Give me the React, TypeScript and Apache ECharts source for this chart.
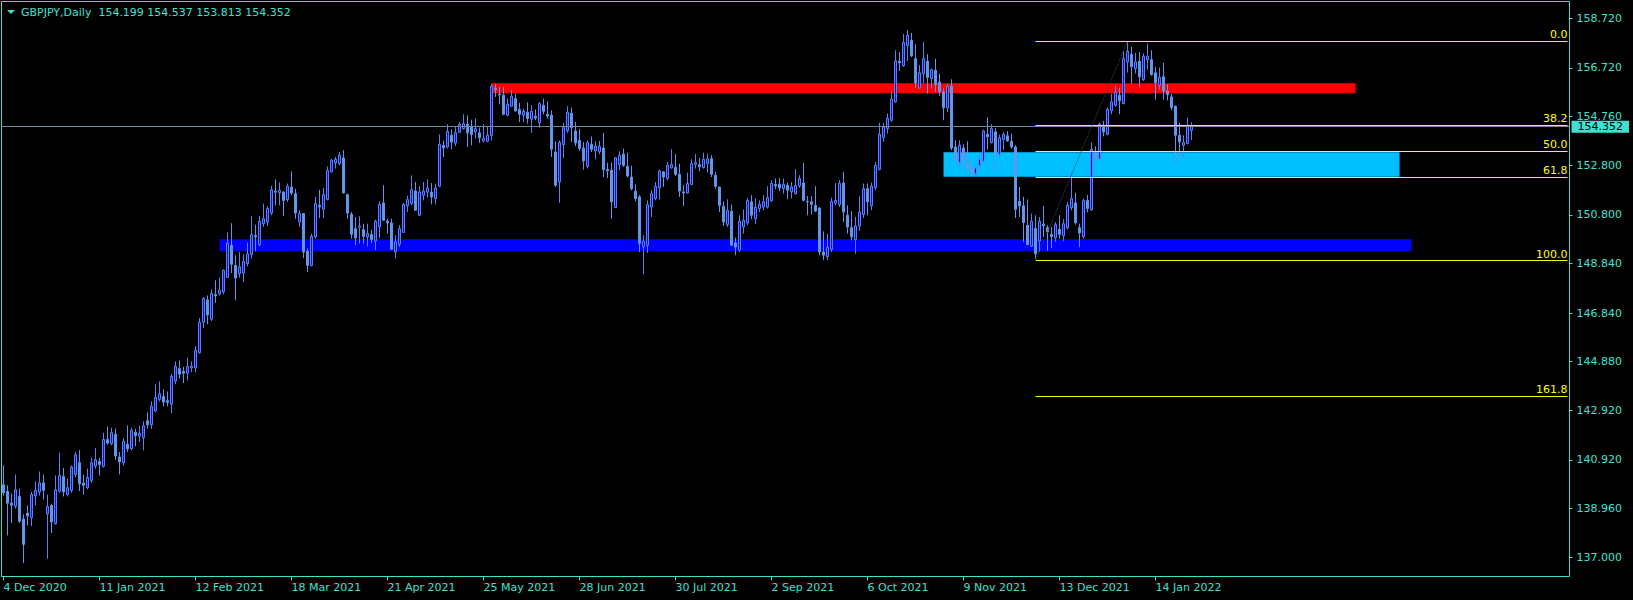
import React, { useEffect, useRef } from 'react';
import * as echarts from 'echarts';

// ---------- DATA ----------
const SYMBOL_HEADER = 'GBPJPY,Daily  154.199 154.537 153.813 154.352';
const FIRST_DAY = '2020-12-04';
const HOLIDAYS = ['2020-12-25', '2021-01-01'];
const TOTAL_SLOTS = 392; // bars + empty space on the right
const LABEL_EVERY = 24;

// [open, close, low, high]
const candles: number[][] = [
  [139.92,139.60,139.49,140.70],[139.65,139.18,137.88,139.90],[139.18,139.10,138.38,139.56],[139.06,139.72,138.96,140.34],
  [139.45,138.45,138.38,139.76],[138.53,137.52,136.77,138.73],[138.78,138.66,138.28,139.09],[138.59,139.53,138.26,139.63],
  [139.47,139.70,139.09,140.06],[139.63,140.00,139.49,140.46],[140.00,139.70,139.32,140.33],[138.75,139.05,136.94,139.53],
  [139.09,138.42,137.98,139.16],[138.35,139.72,138.32,140.30],[139.66,140.30,139.60,141.21],[140.26,139.63,139.45,140.60],
  [139.53,139.80,139.45,140.17],[139.70,140.64,139.60,140.70],[140.34,141.13,140.23,141.24],[140.81,139.96,139.67,141.31],
  [139.99,139.90,139.52,140.33],[139.80,140.22,139.74,140.57],[140.10,140.81,140.00,141.00],[140.68,140.93,140.57,141.40],
  [140.86,140.74,140.30,141.00],[140.66,141.75,140.61,142.02],[141.75,141.60,141.54,142.27],[141.58,142.02,141.51,142.22],
  [141.95,141.08,140.93,142.18],[141.04,140.84,140.34,141.24],[140.80,141.67,140.70,141.80],[141.55,141.37,141.25,142.31],
  [141.37,142.11,141.31,142.22],[142.03,141.91,141.47,142.18],[141.88,141.99,141.64,142.30],[141.82,142.30,141.31,142.48],
  [142.50,142.34,142.18,142.84],[142.34,143.08,142.17,143.28],[142.89,143.44,142.85,143.97],[143.36,143.59,143.28,144.09],
  [143.48,143.25,143.09,143.77],[143.31,143.24,143.08,143.68],[143.17,144.29,142.81,144.40],[144.10,144.69,143.97,144.89],
  [144.60,144.38,144.20,144.93],[144.49,144.42,144.02,144.67],[144.42,144.69,144.13,145.05],[144.63,144.70,144.46,144.89],
  [144.63,145.34,144.45,145.51],[145.24,146.47,145.20,146.64],[146.47,147.43,146.24,147.49],[147.37,146.76,146.39,147.55],
  [146.59,147.63,146.52,147.80],[147.59,147.53,147.25,148.16],[147.61,147.76,147.55,148.28],[147.69,148.56,147.59,148.60],
  [148.28,149.65,148.25,150.09],[149.57,148.80,148.45,150.46],[148.76,148.25,147.35,149.17],[148.43,148.70,148.27,149.30],
  [148.45,148.92,148.09,149.21],[148.83,149.23,148.72,149.68],[149.19,150.00,149.03,150.74],[149.97,149.91,149.33,150.40],
  [149.60,150.54,149.53,150.75],[150.44,150.64,150.31,151.25],[150.51,151.05,150.35,151.14],[150.87,151.81,150.78,151.96],
  [151.75,151.71,151.18,152.23],[151.68,151.79,151.18,152.10],[151.72,151.38,150.75,151.75],[151.41,151.95,151.32,152.06],
  [151.92,151.68,151.61,152.55],[151.65,150.87,150.64,151.85],[150.51,150.85,150.31,150.98],[150.85,149.30,149.06,150.87],
  [149.33,148.76,148.49,149.44],[148.76,149.93,148.72,150.04],[149.91,151.25,149.84,151.52],[151.18,151.11,150.67,151.81],
  [151.02,151.61,150.67,151.88],[151.42,152.59,151.38,152.75],[152.53,153.00,152.50,153.06],[152.89,153.04,152.66,153.13],
  [152.86,153.20,152.79,153.33],[153.09,151.68,151.65,153.40],[151.61,150.87,150.64,151.65],[150.82,150.01,149.84,150.91],
  [150.24,149.87,149.57,150.71],[150.30,150.34,149.64,150.74],[150.20,149.93,149.64,150.44],[149.91,150.04,149.53,150.44],
  [150.01,149.80,149.66,150.20],[149.74,150.54,149.37,150.60],[150.31,151.22,149.87,151.34],[151.28,150.58,150.55,151.99],
  [150.54,150.47,150.04,150.64],[150.47,149.41,149.37,150.64],[149.30,149.70,149.03,149.97],[149.61,150.24,149.50,150.38],
  [150.09,151.22,150.07,151.28],[151.16,151.41,150.91,151.57],[151.25,151.81,151.18,152.39],[151.76,150.98,150.96,152.12],
  [150.78,151.72,150.76,151.95],[151.58,151.75,151.38,152.12],[151.71,151.88,151.49,152.22],[151.71,151.52,151.22,152.08],
  [151.45,151.88,151.22,152.06],[151.95,153.64,151.92,154.04],[153.59,153.49,153.13,153.78],[153.53,154.16,153.47,154.45],
  [154.00,153.73,153.44,154.23],[153.69,154.11,153.57,154.34],[154.12,154.45,154.10,154.54],[154.27,154.47,154.23,154.85],
  [154.45,154.10,153.53,154.81],[154.37,154.03,153.60,154.63],[154.14,154.27,153.87,154.68],[154.10,153.90,153.69,154.31],
  [153.78,153.88,153.73,154.45],[153.76,154.00,153.72,154.34],[153.99,155.98,153.80,156.06],[155.90,155.83,155.55,156.06],
  [155.66,155.63,155.25,155.95],[155.62,154.85,154.81,155.95],[154.81,155.25,154.77,155.48],[155.17,155.58,155.15,155.82],
  [155.48,154.98,154.97,155.68],[155.04,154.85,154.54,155.31],[154.81,154.97,154.54,155.08],[154.93,154.68,154.47,155.33],
  [154.65,154.97,154.10,155.21],[154.77,154.70,154.61,155.04],[154.50,155.28,154.30,155.33],[155.21,154.97,154.84,155.48],
  [154.85,154.78,154.68,155.37],[154.81,153.44,153.13,155.01],[153.33,151.99,151.92,153.76],[152.12,153.71,151.28,153.80],
  [153.63,154.31,153.09,154.50],[154.18,154.93,154.10,155.17],[154.89,154.31,153.73,155.12],[154.18,153.69,153.56,154.54],
  [153.80,153.47,153.37,154.25],[153.49,152.97,152.62,153.73],[152.75,153.71,152.66,153.80],[153.64,153.44,153.33,153.96],
  [153.37,153.57,153.04,153.76],[153.33,153.56,153.24,153.78],[153.49,152.62,152.32,154.10],[152.63,152.57,152.28,152.90],
  [152.60,151.32,150.64,152.90],[151.09,153.10,151.07,153.13],[152.82,153.20,152.59,153.36],[153.24,152.79,152.73,153.47],
  [152.75,152.36,152.30,153.30],[152.32,151.85,151.79,152.77],[151.75,151.45,151.34,152.02],[151.52,149.64,149.30,151.59],
  [149.50,149.73,148.40,149.97],[149.57,151.21,149.26,151.38],[151.11,151.65,150.71,151.79],[151.45,151.95,151.38,152.12],
  [151.89,152.57,151.41,152.62],[152.53,152.32,151.92,152.55],[152.26,152.79,152.19,152.93],[152.69,152.82,152.66,153.44],
  [152.71,152.43,152.36,153.24],[152.43,151.76,151.52,152.86],[151.72,151.68,151.16,151.99],[151.68,152.06,151.65,152.50],
  [152.02,152.86,151.99,153.04],[152.83,152.90,152.66,153.24],[152.82,152.73,152.55,153.09],[152.70,153.04,152.66,153.30],
  [152.86,153.06,152.50,153.26],[153.06,152.43,152.32,153.20],[152.39,151.95,151.85,152.53],[151.92,151.18,150.91,151.92],
  [151.14,150.51,150.35,151.34],[150.40,150.98,150.31,151.42],[150.94,149.57,149.57,151.21],[149.66,149.50,149.17,149.88],
  [149.37,150.54,149.30,150.78],[150.31,150.58,150.04,151.01],[150.47,151.38,150.38,151.48],[151.32,150.78,150.62,151.59],
  [150.64,151.10,150.42,151.45],[151.05,151.22,150.91,151.38],[151.11,151.32,150.98,151.59],[151.11,151.49,151.05,151.95],
  [151.36,152.07,151.32,152.19],[152.02,151.96,151.83,152.26],[152.03,151.88,151.75,152.28],[151.85,152.03,151.65,152.26],
  [151.99,151.79,151.42,152.10],[151.72,151.92,151.45,152.12],[151.65,151.99,151.61,152.63],[151.96,152.26,151.89,152.39],
  [152.08,151.38,151.34,152.89],[151.34,151.32,150.78,151.56],[151.32,151.22,150.81,151.56],[151.18,150.95,150.91,151.95],
  [151.07,149.30,149.17,151.11],[149.30,149.17,148.97,150.13],[149.11,149.49,148.97,150.04],[149.41,151.34,149.30,151.49],
  [151.28,151.38,151.18,152.08],[151.21,152.07,151.11,152.20],[152.08,150.91,150.51,152.53],[150.78,150.31,150.04,151.18],
  [150.28,149.91,149.77,150.95],[149.80,150.35,149.23,150.71],[150.35,150.91,150.15,151.55],[150.81,151.85,150.67,152.06],
  [151.85,151.32,150.78,152.06],[151.16,151.95,150.98,152.10],[151.89,152.79,151.79,152.93],[152.63,154.04,152.59,154.51],
  [153.91,154.34,153.74,154.50],[154.27,154.68,154.07,154.88],[154.61,155.46,154.54,155.75],[155.35,157.00,155.31,157.43],
  [156.99,156.92,156.60,157.36],[156.80,157.74,156.76,158.08],[157.62,158.03,157.00,158.24],[157.83,157.20,157.16,158.13],
  [157.09,156.11,155.91,157.67],[155.91,156.52,155.89,156.83],[156.49,157.09,156.09,157.77],[156.99,156.33,155.68,157.27],
  [156.29,156.65,155.89,156.69],[156.62,156.05,155.75,157.09],[156.15,155.75,155.59,156.49],[155.75,155.11,154.61,155.89],
  [155.11,155.98,154.94,156.06],[155.98,153.49,153.40,156.26],[153.53,153.00,152.86,153.80],[152.90,153.60,152.70,153.80],
  [153.49,153.02,152.73,153.64],[152.90,152.66,152.59,153.76],[152.69,152.42,152.36,153.00],[152.46,152.69,152.36,152.79],
  [152.79,153.04,152.66,153.20],[152.96,154.18,152.90,154.23],[154.04,153.94,153.43,154.73],[153.71,154.27,153.67,154.45],
  [154.14,153.27,152.50,154.30],[153.22,153.90,153.20,154.03],[153.84,154.04,153.40,154.14],[153.98,153.78,153.74,154.17],
  [153.76,153.53,153.47,154.07],[153.53,151.02,150.67,153.60],[151.34,151.16,150.71,151.92],[151.16,150.48,149.70,151.52],
  [150.38,149.60,149.57,151.42],[149.53,150.54,149.50,150.85],[150.24,149.23,149.03,150.78],[149.74,150.54,149.30,150.71],
  [150.42,150.35,149.91,151.16],[150.28,150.11,149.34,150.38],[150.01,149.93,149.46,150.31],[149.87,150.40,149.70,150.51],
  [150.22,150.01,149.84,150.78],[149.95,150.44,149.74,150.62],[150.27,151.18,150.22,151.32],[151.08,151.45,150.98,152.55],
  [151.28,150.48,150.40,151.69],[150.28,150.07,149.50,150.44],[149.91,151.38,149.84,151.45],[151.38,151.05,150.90,151.60],
  [151.00,153.44,150.95,153.71],[153.29,153.06,152.95,153.56],[153.06,154.45,153.00,154.50],[154.34,154.14,153.96,154.58],
  [154.04,155.05,154.00,155.12],[154.99,155.35,154.85,155.68],[155.21,155.75,155.15,156.02],[155.62,155.39,154.85,155.93],
  [155.28,157.09,155.25,157.40],[156.96,157.39,156.53,157.79],[157.27,156.76,156.09,157.56],[156.69,156.96,156.49,157.32],
  [156.99,156.36,155.93,157.36],[156.25,157.19,156.19,157.30],[157.05,157.19,156.65,157.70],[157.05,156.45,156.40,157.43],
  [156.52,156.11,155.44,156.76],[156.02,156.33,155.84,156.73],[156.36,155.79,155.44,156.92],[155.79,155.64,155.41,156.05],
  [155.55,155.12,155.01,155.68],[155.17,154.00,152.89,155.21],[154.00,153.74,153.06,154.50],[153.60,153.71,153.10,154.00],
  [153.67,154.37,153.64,154.72],[154.199,154.352,153.813,154.537],
];

const Y_TICKS = [137.0, 138.96, 140.92, 142.92, 144.88, 146.84, 148.84, 150.8, 152.8, 154.76, 156.72, 158.72];
const Y_MIN = 136.226;
const Y_MAX = 159.393;
const BID = 154.352;

// Fibonacci retracement anchors (bar index, price)
const FIB_LOW_BAR = 258;
const FIB_HIGH_BAR = 281;
const FIB_LOW = 148.957;
const FIB_HIGH = 157.792;
const FIB_LEVELS = [0, 38.2, 50, 61.8, 100, 161.8];
const FIB_LABELS = ['0.0', '38.2', '50.0', '61.8', '100.0', '161.8'];

// rectangles: [fromBar, toBar, topPrice, bottomPrice]
const RED_ZONE = [122, 338, 156.099, 155.696];
const BLUE_ZONE = [54, 352, 149.812, 149.328];
const CYAN_ZONE = [235, 349, 153.318, 152.331];

// ---------- helpers ----------
const MONTHS = ['Jan', 'Feb', 'Mar', 'Apr', 'May', 'Jun', 'Jul', 'Aug', 'Sep', 'Oct', 'Nov', 'Dec'];
function tradingDays(start: string, count: number, holidays: string[]): string[] {
  const out: string[] = [];
  const d = new Date(start + 'T00:00:00Z');
  while (out.length < count) {
    const iso = d.toISOString().slice(0, 10);
    const wd = d.getUTCDay();
    if (wd !== 0 && wd !== 6 && !holidays.includes(iso)) {
      out.push(`${d.getUTCDate()} ${MONTHS[d.getUTCMonth()]} ${d.getUTCFullYear()}`);
    }
    d.setUTCDate(d.getUTCDate() + 1);
  }
  return out;
}

const categories = tradingDays(FIRST_DAY, TOTAL_SLOTS, HOLIDAYS);
const N_BARS = candles.length;

const TEAL = '#40E0D0';
const FONT = 'DejaVu Sans';
const BULL_FILL = '#1010E0';
const BULL_EDGE = '#5A82F0';
const BEAR = '#6495ED';

function zone(z: number[], color: string) {
  return [
    { coord: [z[0], z[2]], itemStyle: { color, opacity: 1, borderWidth: 0 } },
    { coord: [z[1], z[3]] },
  ];
}

export default function App() {
  const ref = useRef<HTMLDivElement>(null);
  useEffect(() => {
    const chart = echarts.init(ref.current!, null, { renderer: 'svg', width: 1633, height: 600 });
    const showLabel = (i: number) => i % LABEL_EVERY === 0 && i < N_BARS;

    const fibLines = FIB_LEVELS.map((lv, k) => {
      const price = FIB_HIGH - ((FIB_HIGH - FIB_LOW) * lv) / 100;
      return [
        {
          name: FIB_LABELS[k],
          coord: [FIB_LOW_BAR, price],
          lineStyle: { color: '#FFFF00', width: 1, type: 'solid' },
          label: {
            show: true,
            position: 'insideEndTop',
            formatter: FIB_LABELS[k],
            color: '#FFFF00',
            fontSize: 11,
            fontFamily: FONT,
            distance: [0, 1],
          },
        },
        { coord: [TOTAL_SLOTS - 1, price] },
      ];
    });

    const option: any = {
      animation: false,
      backgroundColor: '#000000',
      title: {
        text: SYMBOL_HEADER,
        left: 21,
        top: 7,
        padding: 0,
        textStyle: { color: TEAL, fontSize: 11, fontWeight: 'normal', fontFamily: FONT },
      },
      graphic: [
        {
          type: 'polygon',
          shape: { points: [[7, 10], [15, 10], [11, 14]] },
          style: { fill: TEAL },
        },
      ],
      grid: {
        left: 1.5,
        top: 1.5,
        width: 1568,
        height: 575,
        show: true,
        borderColor: TEAL,
        borderWidth: 1,
        backgroundColor: 'transparent',
      },
      xAxis: {
        type: 'category',
        data: categories,
        boundaryGap: true,
        axisLine: { show: false },
        axisTick: {
          show: true,
          alignWithLabel: true,
          interval: showLabel,
          length: 4,
          lineStyle: { color: TEAL },
        },
        axisLabel: {
          interval: showLabel,
          color: TEAL,
          fontSize: 11,
          fontFamily: FONT,
          align: 'left',
          margin: 5,
        },
        splitLine: { show: false },
      },
      yAxis: {
        type: 'value',
        position: 'right',
        min: Y_MIN,
        max: Y_MAX,
        axisLine: { show: false },
        axisTick: { show: true, customValues: Y_TICKS, length: 3, lineStyle: { color: TEAL } },
        axisLabel: {
          customValues: Y_TICKS,
          formatter: (v: number) => v.toFixed(3),
          color: TEAL,
          fontSize: 11,
          fontFamily: FONT,
          margin: 7,
        },
        splitLine: { show: false },
      },
      series: [
        {
          name: 'zones',
          type: 'line',
          data: [],
          z: 1,
          silent: true,
          markArea: {
            silent: true,
            data: [zone(BLUE_ZONE, '#0000FF'), zone(RED_ZONE, '#FF0000'), zone(CYAN_ZONE, '#00BFFF')],
          },
        },
        {
          name: 'GBPJPY',
          type: 'candlestick',
          data: candles,
          z: 2,
          barWidth: 2,
          itemStyle: {
            color: BULL_FILL,
            color0: BEAR,
            borderColor: BULL_EDGE,
            borderColor0: BEAR,
            borderWidth: 1,
          },
        },
        {
          name: 'levels',
          type: 'line',
          data: [],
          z: 5,
          silent: true,
          clip: false,
          markLine: {
            silent: true,
            symbol: 'none',
            animation: false,
            data: [
              ...fibLines,
              [
                {
                  coord: [FIB_LOW_BAR, FIB_LOW],
                  lineStyle: { color: '#2F4F4F', width: 1, type: 'dotted' },
                  label: { show: false },
                },
                { coord: [FIB_HIGH_BAR, FIB_HIGH] },
              ],
              {
                yAxis: BID,
                lineStyle: { color: '#778899', width: 1, type: 'solid' },
                label: {
                  show: true,
                  position: 'end',
                  formatter: BID.toFixed(3),
                  color: '#000000',
                  backgroundColor: TEAL,
                  padding: [1, 6, 0, 6],
                  fontSize: 11,
                  fontFamily: FONT,
                  distance: 2,
                },
              },
            ],
          },
        },
      ],
    };
    chart.setOption(option);
    return () => chart.dispose();
  }, []);
  return (
    <div
      ref={ref}
      style={{ position: 'absolute', left: 0, top: 0, width: 1633, height: 600, background: '#000000' }}
    />
  );
}
